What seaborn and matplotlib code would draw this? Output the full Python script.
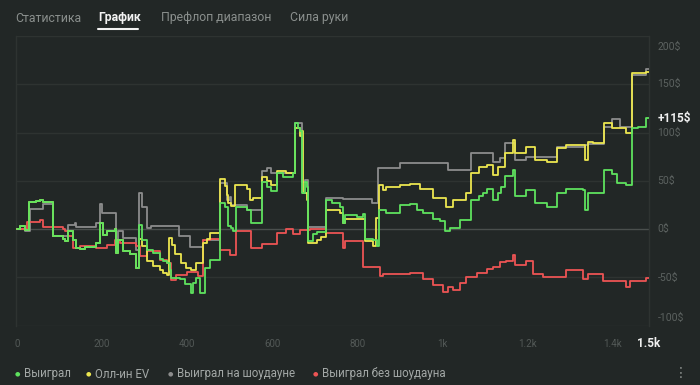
import matplotlib
matplotlib.use("Agg")
import matplotlib.pyplot as plt
import seaborn as sns

# hands (x) and cumulative winnings in $ (y)
won_hands = [0, 7, 19, 29, 46, 54, 62, 85, 109, 113, 121, 132, 140, 148, 160, 175, 187, 195, 203, 211,
             230, 233, 238, 250, 265, 281, 287, 293, 305, 320, 336, 344, 352, 359, 363, 383, 395, 408,
             414, 422, 430, 442, 453, 477, 489, 497, 504, 508, 515, 540, 551, 576, 587, 598, 610, 625,
             649, 653, 660, 665, 669, 677, 681, 684, 695, 704, 727, 740, 758, 766, 770, 800, 813, 817,
             837, 845, 850, 868, 900, 923, 939, 954, 978, 995, 1006, 1012, 1017, 1041, 1068, 1085, 1096,
             1104, 1119, 1131, 1138, 1146, 1166, 1170, 1197, 1217, 1245, 1268, 1291, 1330, 1334, 1342,
             1354, 1379, 1397, 1409, 1432, 1444, 1460, 1479, 1485]
won_vals = [0, 2.8, -0.7, 28.6, 29, 30.3, 28, -6.6, -10, -12.8, -2.4, -11, -19.7, -20.7, -18, -19, -14.5,
            6.2, -5.9, -2.4, 0.3, -24.8, -11, -23.1, -25.5, -40.3, 4, -11, -22.1, -25, -31, -33, -35.2,
            -42, -50.7, -52, -57, -66.2, -55.9, -50.7, -66.2, -40.3, -31.7, 27, 23.4, 3, 1, -2.4, 23.4,
            20, 6.2, 49.3, 44, 39.7, 57.9, 54, 57.9, 109.7, 104.5, 102, 37.2, 49.3, 44.1, -12.8, -5, -3,
            30, 27, 23.4, 6.2, 14.8, 13, 16, -10, -11, -17.9, 20, 16.6, 25, 26, 20, 16.6, 11, 8, -1.7,
            -2.4, 1, 9.7, 30.3, 33.8, 37.2, 42, 30.3, 37.2, 44, 55, 61.4, 33.8, 40.7, 27, 23.4, 37.2,
            42, 40.7, 20, 37.2, 37.2, 61.4, 57, 48, 46, 104.5, 106, 115, 115]

ev_hands = [0, 7, 19, 29, 46, 54, 62, 85, 109, 113, 121, 132, 140, 148, 160, 175, 187, 195, 203, 211,
            230, 233, 238, 250, 265, 281, 287, 293, 305, 320, 336, 344, 352, 358, 364, 372, 385, 398,
            410, 420, 438, 446, 453, 477, 489, 493, 497, 504, 512, 540, 547, 555, 576, 587, 598, 610,
            633, 653, 665, 669, 673, 681, 684, 704, 715, 727, 758, 766, 770, 813, 817, 837, 843, 850,
            860, 868, 900, 923, 947, 978, 1009, 1025, 1056, 1068, 1085, 1104, 1119, 1131, 1146, 1166,
            1170, 1197, 1217, 1245, 1268, 1291, 1334, 1342, 1354, 1379, 1397, 1432, 1444, 1479, 1485]
ev_vals = [0, 2.8, -0.7, 28.6, 29, 30.3, 28, -6.6, -10, -12.8, -2.4, -11, -19.7, -20.7, -18, -19, -14.5,
           6.2, -5.9, -2.4, 0.3, -24.8, -11, -23.1, -25.5, -40.3, -10, -17.9, -33, -38, -42, -45, -47.2,
           -9, -16, -26, -35, -40, -42, -35, -14, -10, -4, 51.7, 45, 35, 27, 24, 45.9, 42, 30, 32, 54.5,
           50, 46, 59.7, 58, 104.5, 96, 102, 37.2, 30, -14.5, -11, -8, 20, 16.6, 6.2, 10, 10, -12.8,
           -17, 11.4, 45.9, 40.7, 44, 46, 47, 42, 32, 23.4, 30, 37, 57.9, 64, 66, 56, 64.8, 78.6, 92.4,
           78.6, 85.5, 71.7, 70, 83.8, 87.2, 72, 90.7, 89, 109.7, 104.5, 100, 161.4, 163, 163]

sd_hands = [0, 19, 31, 62, 85, 121, 136, 140, 187, 195, 199, 233, 238, 250, 281, 287, 293, 305, 316,
            348, 381, 406, 438, 477, 493, 500, 504, 540, 576, 587, 598, 649, 653, 669, 677, 684, 727,
            766, 835, 848, 900, 1012, 1068, 1119, 1134, 1146, 1170, 1197, 1264, 1268, 1334, 1342,
            1379, 1397, 1417, 1444, 1479, 1485]
sd_vals = [0, -1.7, 21, 26, -6.6, 4.5, 6.2, 2, 6.2, 26, 16.6, -11, -1.7, -9.3, -21.4, 37.2, 23.4, 1,
           3.4, 3.5, -7, -18, -11, 47.6, 30, 33, 25, 20, 59.7, 63.1, 57.9, 57.9, 109.7, 49.3, 51, 2.5,
           32, 31, 27, 63.1, 69, 61.4, 79.3, 70, 74.1, 89, 71.7, 74.5, 74.5, 85.5, 87, 88.3, 106.2,
           113.8, 106.2, 159.7, 165.5, 165.5]

nsd_hands = [0, 23, 54, 62, 109, 113, 121, 132, 148, 187, 211, 230, 242, 281, 289, 305, 336, 352, 363,
             375, 399, 426, 438, 453, 477, 500, 515, 551, 575, 610, 633, 649, 665, 688, 727, 766, 770,
             814, 853, 860, 923, 954, 978, 1000, 1012, 1025, 1041, 1056, 1080, 1104, 1119, 1134, 1150,
             1166, 1170, 1197, 1213, 1237, 1291, 1330, 1342, 1377, 1432, 1440, 1479, 1485]
nsd_vals = [0, 6.9, 9.7, 1.7, 0, -2.4, -7.6, -19.7, -17.9, -19.7, -16.2, -11, -14.5, -17.9, -28.3,
            -23.1, -31.7, -35.2, -52.4, -48, -44, -49, -11, -10, -21.4, -26.6, -2.4, -19.7, -15, -4.1,
            0.3, -4.8, -1, 0.3, -4.1, -19.7, -12.8, -39.3, -49, -46, -45, -52, -58, -65, -60, -63, -56,
            -50, -45, -41, -39, -34, -33, -27, -37, -33, -46, -50, -42, -52, -46, -54, -60, -54, -51, -51]

y_ticks = [200, 150, 100, 50, 0, -50, -100]
x_ticks = [0, 200, 400, 600, 800, 1000, 1200, 1400]
x_labels = ["0", "200", "400", "600", "800", "1k", "1.2k", "1.4k"]
tabs = ["Статистика", "График", "Префлоп диапазон", "Сила руки"]
legend_names = ["Выиграл", "Олл-ин EV", "Выиграл на шоудауне", "Выиграл без шоудауна"]

BG = "#222726"
GREEN, YELLOW, GRAY, RED = "#5ee25e", "#ece650", "#8c8c8c", "#ec5454"

sns.set_theme(style="dark", rc={"axes.facecolor": BG, "figure.facecolor": BG})
plt.rcParams["font.family"] = ["Roboto", "DejaVu Sans"]

fig = plt.figure(figsize=(7, 3.85), dpi=100)
ax = fig.add_axes([16 / 700, 1 - 325.7 / 385, 633 / 700, 289.7 / 385])

for yv in y_ticks:
    ax.axhline(yv, color="#4a4f4d" if yv == 0 else "#2e3331", lw=1.0, zorder=1)

line_kw = dict(estimator=None, sort=False, drawstyle="steps-post", lw=1.3, ax=ax, legend=False)
sns.lineplot(x=sd_hands, y=sd_vals, color=GRAY, zorder=3, **line_kw)
sns.lineplot(x=nsd_hands, y=nsd_vals, color=RED, zorder=3, **line_kw)
sns.lineplot(x=ev_hands, y=ev_vals, color=YELLOW, zorder=4, **line_kw)
sns.lineplot(x=won_hands, y=won_vals, color=GREEN, zorder=5, **line_kw)

ax.set_xlim(-2, 1485)
ax.set_ylim(-100, 200)
ax.set_xticks([])
ax.set_yticks([])
ax.set_xlabel("")
ax.set_ylabel("")
for side in ["top", "bottom"]:
    ax.spines[side].set_visible(False)
for side in ["left", "right"]:
    ax.spines[side].set_visible(True)
    ax.spines[side].set_color("#2e3331")
    ax.spines[side].set_linewidth(1.0)

# right-side y labels
for yv in y_ticks:
    va = "center"
    if yv == 200:
        va = "top"
    elif yv == -100:
        va = "bottom"
    ax.annotate(f"{yv}$", xy=(1, yv), xycoords=("axes fraction", "data"),
                xytext=(6, -4.5 if yv == 200 else (2 if yv == -100 else 0)), textcoords="offset points",
                ha="left", va=va, fontsize=7.5, color="#5c6260")
ax.annotate("+115$", xy=(1, won_vals[-1]), xycoords=("axes fraction", "data"),
            xytext=(6, 0), textcoords="offset points", ha="left", va="center",
            fontsize=8.5, fontweight="bold", color="#f0f0f0")

# bottom x labels
for xv, lab in zip(x_ticks, x_labels):
    ax.annotate(lab, xy=(xv, 0), xycoords=("data", "axes fraction"), xytext=(0, -13),
                textcoords="offset points", ha="center", va="center", fontsize=7, color="#535957")
ax.annotate("1.5k", xy=(1, 0), xycoords="axes fraction", xytext=(0, -13),
            textcoords="offset points", ha="center", va="center", fontsize=8.5,
            fontweight="bold", color="#f0f0f0")

# tabs on top
tab_x = [15, 98, 161, 290]
for i, (tx, name) in enumerate(zip(tab_x, tabs)):
    active = i == 1
    fig.text(tx / 700, 1 - 18 / 385, name, ha="left", va="center", fontsize=8.8,
             color="#f2f2f2" if active else "#8a8f8d", fontweight="bold" if active else "normal")
fig.add_artist(plt.Line2D([98 / 700, 138 / 700], [1 - 28.5 / 385] * 2, color="#f2f2f2", lw=1.5))

# legend row
dot_x = [17, 88, 170, 315]
for dx, name, c in zip(dot_x, legend_names, [GREEN, YELLOW, GRAY, RED]):
    fig.text(dx / 700, 1 - 374 / 385, "●", ha="center", va="center", fontsize=4.5, color=c)
    fig.text((dx + 7) / 700, 1 - 374 / 385, name, ha="left", va="center", fontsize=8.3, color="#a3a8a6")
fig.text(681 / 700, 1 - 373 / 385, "⋮", ha="center", va="center", fontsize=10, color="#8a8f8d")

fig.savefig("out.png", dpi=100, facecolor=BG)
